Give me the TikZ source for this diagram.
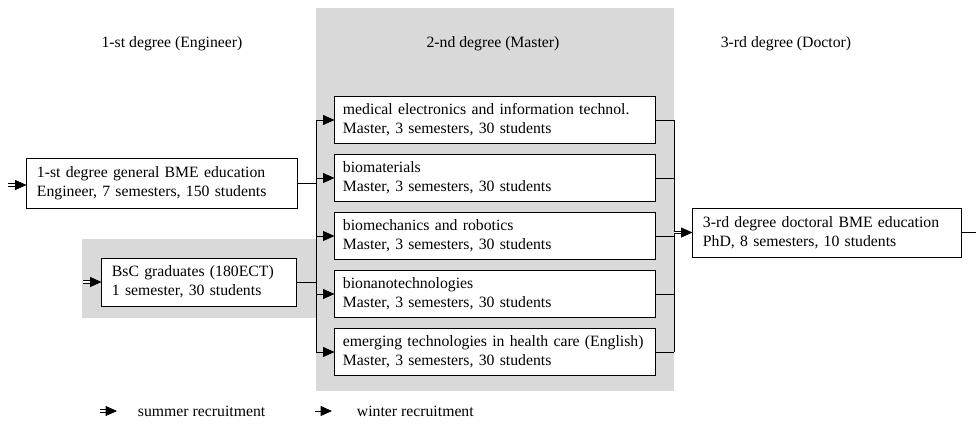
\documentclass[tikz,border=0pt]{standalone}
\usepackage{fontspec}
\setmainfont{Liberation Serif}
\usepackage{tikz}
\usetikzlibrary{positioning,arrows.meta}
\definecolor{bmegray}{HTML}{D9D9D9}

\begin{document}
\begin{tikzpicture}[x=0.025cm,y=-0.025cm,node distance=0.25cm,
    font=\fontsize{11.2}{13.5}\selectfont,
    box/.style={rectangle,draw,line width=0.7pt,fill=white,
                inner xsep=0.25cm,inner ysep=0pt,align=left,
                minimum height=1.175cm},
    master/.style={box,inner xsep=0.2cm,text width=7.6cm},
    winter/.style={line width=0.6pt,-{Triangle[length=8pt,width=7pt]}},
    summer/.style={line width=0.5pt,double,double distance=1.4pt,
                   -{Triangle[length=8pt,width=7pt]}}]
  \useasboundingbox (0,0) rectangle (976,423);
  % shaded areas
  \fill[bmegray] (316,8) rectangle (674,391);
  \fill[bmegray] (82,239) rectangle (316,318);
  % titles
  \node (t1) at (172,44) {1-st degree (Engineer)};
  \node (t2) at (493,44) {2-nd degree (Master)};
  \node (t3) at (786,44) {3-rd degree (Doctor)};
  % 1-st degree
  \node[box,text width=6.25cm,minimum height=1.25cm] (eng) at (162,183.5)
    {1-st degree general BME education\\Engineer, 7 semesters, 150 students};
  \node[box,text width=4.35cm,minimum height=1.2cm] (bsc) at (199,282)
    {BsC graduates (180ECT)\\1 semester, 30 students};
  % 2-nd degree
  \node[master] (m1) at (495,120)
    {medical electronics and information technol.\\Master, 3 semesters, 30 students};
  \node[master,below=of m1] (m2) {biomaterials\\Master, 3 semesters, 30 students};
  \node[master,below=of m2] (m3) {biomechanics and robotics\\Master, 3 semesters, 30 students};
  \node[master,below=of m3] (m4) {bionanotechnologies\\Master, 3 semesters, 30 students};
  \node[master,below=of m4] (m5)
    {\mbox{emerging technologies in health care (English)}\\Master, 3 semesters, 30 students};
  % 3-rd degree
  \node[box,text width=6.2cm,minimum height=1.225cm] (phd) at (827,232.5)
    {3-rd degree doctoral BME education\\PhD, 8 semesters, 10 students};
  % connectors
  \coordinate (busL) at (316,0);
  \coordinate (busR) at (674,0);
  \coordinate (inE) at (8,185);
  \coordinate (inB) at (83,282);
  \coordinate (outP) at (976,232.5);
  \draw[summer] (inE) -- (inE -| eng.west);
  \draw[summer] (inB) -- (bsc.west);
  \draw[line width=0.6pt] (eng.east) -- (eng.east -| busL);
  \draw[line width=0.6pt] (bsc.east) -- (bsc.east -| busL);
  \draw[line width=0.6pt] (m1.west -| busL) -- (m5.west -| busL);
  \foreach \m in {m1,m2,m3,m4,m5}
    \draw[winter] (\m.west -| busL) -- (\m.west);
  \foreach \m in {m1,m2,m3,m4,m5}
    \draw[line width=0.6pt] (\m.east) -- (\m.east -| busR);
  \draw[line width=0.6pt] (m1.east -| busR) -- (m5.east -| busR);
  \draw[summer] (phd.west -| busR) -- (phd.west);
  \draw[line width=0.6pt] (phd.east) -- (outP);
  % legend
  \node[anchor=west] (lsum) at (133,411) {summer recruitment};
  \node[anchor=west] (lwin) at (352,411) {winter recruitment};
  \coordinate (ls) at (100,411);
  \coordinate (lw) at (315,411);
  \draw[summer] (ls) -- ([xshift=-0.4cm]lsum.west);
  \draw[winter] (lw) -- ([xshift=-0.5cm]lwin.west);
\end{tikzpicture}
\end{document}
